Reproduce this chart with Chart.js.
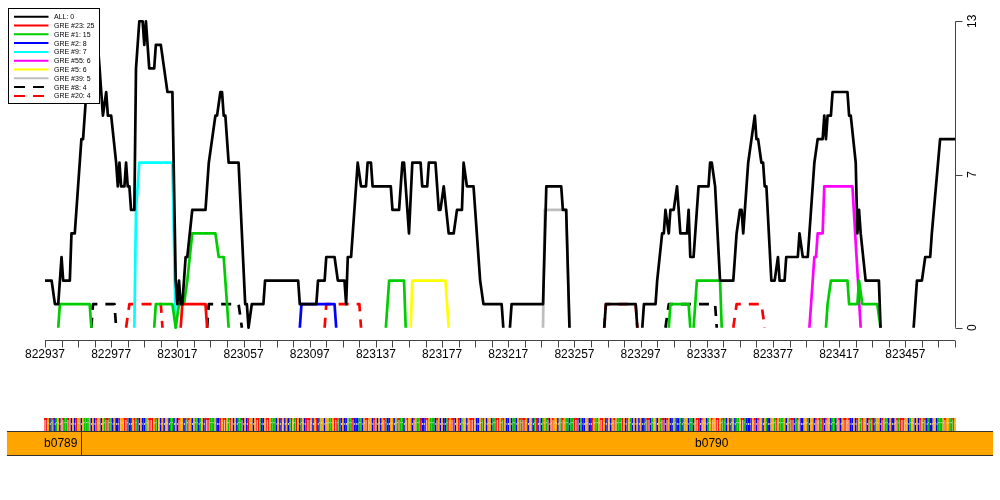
<!DOCTYPE html>
<html>
<head>
<meta charset="utf-8">
<script src="https://cdn.jsdelivr.net/npm/chart.js@4.4.1/dist/chart.umd.min.js"></script>
<style>
  html, body { margin: 0; padding: 0; background: #fff; }
  canvas { display: block; }
</style>
</head>
<body>
<canvas id="chart" width="1000" height="500"></canvas>
<script>
const seqStart = 822937;
const seqEnd = 823487;
const xTickStep = 10;
const xLabelStep = 40;
const yTicks = [0, 6.5, 13];
const yTickLabels = ['0', '7', '13'];

// [offset from seqStart, count]; null breaks the line
const allCounts = [
  [0,2],[4,2],[6,1],[8,1],[10,3],[11,2],[15,2],[16,4],[18,4],[21,7],[22,8],[23,8],[25,10],[26,10],[28,11],[31,12],[32,12],
  [34,10],[35,9],[37,10],[38,9],[40,9],[43,7],[44,6],[45,7],[46,6],[48,6],[49,7],[50,6],[51,6],[52,5],[54,5],[55,11],
  [57,13],[59,13],[60,12],[61,13],[63,11],[66,11],[67,12],[70,12],[72,11],[74,10],[77,10],[79,2],[80,1],[81,2],[82,1],
  [83,1],[85,3],[86,3],[89,5],[97,5],[99,7],[101,8],[103,9],[104,9],[106,10],[107,10],[108,9],[109,9],[111,7],[117,7],
  [121,1],[122,1],[123,0],[125,1],[132,1],[133,2],[153,2],[154,1],[164,1],[165,2],[169,2],[170,3],[175,3],[177,2],[181,2],
  [182,1],[183,3],[185,3],[189,7],[191,6],[194,6],[195,7],[197,7],[198,6],[209,6],[210,5],[214,5],[216,7],[217,7],[220,4],
  [222,7],[227,7],[228,6],[231,6],[232,7],[236,7],[238,5],[239,5],[241,6],[244,4],[247,4],[249,5],[252,5],[253,7],[255,6],
  [259,6],[263,2],[265,1],[276,1],[277,0], null,
  [281,0],[282,1],[301,1],[303,6],[312,6],[313,5],[315,5],[317,0], null,
  [338,0],[339,1],[357,1],[358,0], null,
  [361,0],[362,1],[369,1],[370,2],[373,4],[374,4],[375,5],[377,4],[378,5],[380,5],[382,6],[384,4],[388,4],[389,5],[390,3],
  [392,3],[395,6],[401,6],[402,7],[403,7],[405,6],[408,2],[416,2],[418,4],[420,5],[421,5],[422,4],[425,7],[427,8],[429,9],
  [430,8],[431,8],[433,7],[434,7],[435,6],[436,6],[439,2],[441,2],[443,3],[444,2],[447,2],[448,3],[455,3],[456,4],[458,3],
  [461,3],[465,7],[467,8],[470,8],[471,9],[472,8],[473,9],[475,9],[476,10],[485,10],[486,9],[487,9],[490,7],[491,4],[492,5],
  [493,4],[496,2],[504,2],[505,0], null,
  [525,0],[527,2],[530,2],[532,3],[535,3],[536,4],[541,8],[550,8]
];
const gre23 = [[82,0],[83,1],[97,1],[98,0]];
const gre1 = [
  [8,0],[9,1],[27,1],[28,0], null,
  [66,0],[67,1],[77,1],[79,0],[81,1],[84,1],[86,2],[89,4],[103,4],[105,3],[108,3],[111,0], null,
  [206,0],[208,2],[217,2],[218,0], null,
  [377,0],[378,1],[389,1],[390,0], null,
  [392,0],[394,2],[408,2],[409,0], null,
  [472,0],[473,1],[475,2],[485,2],[486,1],[491,1],[492,2],[494,1],[503,1],[505,0]
];
const gre2 = [[154,0],[155,1],[175,1],[176,0]];
const gre9 = [[54,0],[55,5],[57,7],[77,7],[79,0]];
const gre55 = [[462,0],[465,3],[466,3],[467,4],[470,4],[471,6],[488,6],[493,0]];
const gre5 = [[221,0],[222,2],[242,2],[244,0]];
const gre39 = [[301,0],[302,5],[315,5],[317,0]];
const gre8 = [[28,0],[29,1],[42,1],[43,0], null, [98,0],[99,1],[117,1],[119,0], null, [375,0],[377,1],[405,1],[406,0]];
const gre20 = [
  [49,0],[51,1],[70,1],[71,0], null,
  [169,0],[170,1],[190,1],[191,0], null,
  [338,0],[339,1],[357,1],[358,0], null,
  [416,0],[418,1],[433,1],[435,0]
];

const seriesLabels = ['ALL: 0', 'GRE #23: 25', 'GRE #1: 15', 'GRE #2: 8', 'GRE #9: 7', 'GRE #55: 6', 'GRE #5: 6', 'GRE #39: 5', 'GRE #8: 4', 'GRE #20: 4'];
const seriesData = [allCounts, gre23, gre1, gre2, gre9, gre55, gre5, gre39, gre8, gre20];
const seriesColors = ['#000000', '#FF0000', '#00CD00', '#0000FF', '#00FFFF', '#FF00FF', '#FFFF00', '#BEBEBE', '#000000', '#FF0000'];
const seriesDashed = [false, false, false, false, false, false, false, false, true, true];

const sequence =
  'TTGCATCAGCGTAATGCGCTGGCGAAAGCGCTGGCGATTAACGCCTGGTT' +
  'ACCGTATCGCCAGTTTGATGCGCGGCAACGCTGGCTATGCGAACAGCTTT' +
  'AAAGCCTGTTGATGCGCAATCGCTGGCGTTACCGTTGAAACGCTGCGCAT' +
  'GATGCAGCTTTGCGTCAGGCGGAAGTTATCGCCGAATCCCAACGTTGGCT' +
  'GCGCGTACCGGCGATAACGTGGCTGAATCCTTGAAACTGCGCCATGTTCG' +
  'TCAGGCGTTTGCCGATGCGGCAATTGATGCCGCAACGTATTGCGGCATCG' +
  'CAGATCGTGGCGATGAACAATTTCACCGGCCTGAAGTTGCTGCGTGAAAT' +
  'GCTGACGCGCGCCATTCAGGCGATTCTGCCGACCACAGGCAACGTTCTGG' +
  'CAGTGGTTGATACGCAGCAAGTTACCCTGTCTGGCGACCGGATGAAAGCG' +
  'ATTCATGCCGGACGGCTGTATCTGGCAACGTCGTTGTCCGCTGATGGCTA' +
  'TCAGGCTGAACGCCGTATTTGGCAGGCGCTGATCACCGGCAAAGTGGAAT' + 'G';
const baseColors = { A: '#00C000', C: '#0000FF', G: '#FFA500', T: '#FF0000' };

const geneNames = ['b0789', 'b0790'];
const geneStarts = [822914, 822959];
const geneEnds = [822959, 823510];
const geneLabelAt = [822946.5, 823340];

const FONT = '"Liberation Sans", Arial, Helvetica, sans-serif';

function toPoints(pairs) {
  const out = [];
  let lastX = seqStart;
  pairs.forEach(p => {
    if (p === null) {
      out.push({ x: lastX + 0.5, y: null });
    } else {
      lastX = seqStart + p[0];
      out.push({ x: lastX, y: p[1] });
    }
  });
  return out;
}

const datasets = seriesLabels.map((label, i) => ({
  label: label,
  data: toPoints(seriesData[i]),
  borderColor: seriesColors[i],
  borderWidth: 2.7,
  borderDash: seriesDashed[i] ? [10, 8] : [],
  borderCapStyle: 'butt',
  borderJoinStyle: 'round',
  pointRadius: 0,
  tension: 0,
  fill: false,
  spanGaps: false
}));

const rStyle = {
  id: 'rStyle',
  afterDraw(chart) {
    const ctx = chart.ctx;
    const xs = chart.scales.x;
    const ys = chart.scales.y;
    const area = chart.chartArea;
    ctx.save();

    // bottom axis
    const axY = Math.round(area.bottom) + 0.5;
    ctx.strokeStyle = '#444';
    ctx.lineWidth = 1;
    ctx.beginPath();
    ctx.moveTo(xs.getPixelForValue(seqStart), axY);
    ctx.lineTo(xs.getPixelForValue(seqEnd), axY);
    for (let v = seqStart; v <= seqEnd; v += xTickStep) {
      const px = Math.round(xs.getPixelForValue(v)) + 0.5;
      ctx.moveTo(px, axY);
      ctx.lineTo(px, axY + 7);
    }
    ctx.stroke();
    ctx.fillStyle = '#000';
    ctx.font = '12px ' + FONT;
    ctx.textAlign = 'center';
    ctx.textBaseline = 'middle';
    for (let v = seqStart; v <= seqEnd; v += xLabelStep) {
      ctx.fillText(String(v), xs.getPixelForValue(v), axY + 14);
    }

    // right axis
    const axX = Math.round(area.right) + 0.5;
    ctx.beginPath();
    ctx.moveTo(axX, ys.getPixelForValue(yTicks[0]));
    ctx.lineTo(axX, ys.getPixelForValue(yTicks[yTicks.length - 1]));
    yTicks.forEach(v => {
      const py = Math.round(ys.getPixelForValue(v)) + 0.5;
      ctx.moveTo(axX, py);
      ctx.lineTo(axX + 7, py);
    });
    ctx.stroke();
    yTicks.forEach((v, i) => {
      ctx.save();
      ctx.translate(axX + 17, ys.getPixelForValue(v));
      ctx.rotate(-Math.PI / 2);
      ctx.fillText(yTickLabels[i], 0, 0);
      ctx.restore();
    });

    // legend
    const lx = 8.5, ly = 8.5, lw = 91, lh = 95, rowH = 8.8;
    ctx.fillStyle = '#fff';
    ctx.fillRect(lx, ly, lw, lh);
    ctx.strokeStyle = '#000';
    ctx.lineWidth = 1;
    ctx.strokeRect(lx, ly, lw, lh);
    ctx.font = '7px ' + FONT;
    ctx.textAlign = 'left';
    chart.data.datasets.forEach((ds, i) => {
      const yy = 16.7 + i * rowH;
      ctx.beginPath();
      ctx.strokeStyle = ds.borderColor;
      ctx.lineWidth = 2;
      ctx.setLineDash(ds.borderDash.length ? [11, 8] : []);
      ctx.moveTo(14, yy);
      ctx.lineTo(48.5, yy);
      ctx.stroke();
      ctx.setLineDash([]);
      ctx.fillStyle = '#000';
      ctx.fillText(ds.label, 54, yy + 0.5);
    });

    // sequence track: one squeezed coloured glyph per base
    const cellW = xs.getPixelForValue(seqStart + 1) - xs.getPixelForValue(seqStart);
    const seqTop = 418, seqBottom = 431, seqMid = 424;
    const n = Math.min(sequence.length, seqEnd - seqStart + 1);
    for (let i = 0; i < n; i++) {
      const b = sequence[i];
      const cx = xs.getPixelForValue(seqStart + i);
      const x0 = cx - cellW / 2;
      ctx.fillStyle = baseColors[b];
      if (b === 'T') {
        ctx.fillRect(x0, seqTop, cellW, 2);
        ctx.fillRect(cx - cellW * 0.3, seqTop, cellW * 0.6, seqBottom - seqTop);
      } else {
        ctx.fillRect(x0, seqTop, cellW, seqBottom - seqTop);
        ctx.fillStyle = 'rgba(255,255,255,0.85)';
        if (b === 'A') ctx.fillRect(cx - cellW * 0.2, seqMid - 2, cellW * 0.4, 1.2);
        else if (b === 'C') ctx.fillRect(cx - cellW * 0.1, seqMid - 1, cellW * 0.6, 2);
        else ctx.fillRect(cx - cellW * 0.1, seqMid - 1.5, cellW * 0.5, 1);
      }
    }

    // gene bar
    const gTop = 431, gBottom = 455;
    const gx0 = xs.getPixelForValue(geneStarts[0]);
    const gx1 = xs.getPixelForValue(geneEnds[geneEnds.length - 1]);
    ctx.fillStyle = '#FFA500';
    ctx.fillRect(gx0, gTop, gx1 - gx0, gBottom - gTop);
    ctx.strokeStyle = '#333';
    ctx.lineWidth = 1;
    ctx.beginPath();
    ctx.moveTo(gx0, gTop + 0.5);
    ctx.lineTo(gx1, gTop + 0.5);
    ctx.moveTo(gx0, gBottom + 0.5);
    ctx.lineTo(gx1, gBottom + 0.5);
    for (let i = 1; i < geneStarts.length; i++) {
      const dx = Math.round(xs.getPixelForValue(geneStarts[i])) + 0.5;
      ctx.moveTo(dx, gTop);
      ctx.lineTo(dx, gBottom);
    }
    ctx.stroke();
    ctx.fillStyle = '#000';
    ctx.font = '12px ' + FONT;
    ctx.textAlign = 'center';
    ctx.textBaseline = 'middle';
    geneNames.forEach((g, i) => {
      ctx.fillText(g, xs.getPixelForValue(geneLabelAt[i]), (gTop + gBottom) / 2 + 0.5);
    });

    ctx.restore();
  }
};

new Chart(document.getElementById('chart').getContext('2d'), {
  type: 'line',
  data: { datasets: datasets },
  options: {
    responsive: false,
    animation: false,
    layout: { padding: { left: 45, right: 45, top: 9, bottom: 160 } },
    plugins: { legend: { display: false }, tooltip: { enabled: false } },
    scales: {
      x: { type: 'linear', min: seqStart, max: seqEnd, display: false },
      y: { type: 'linear', min: -0.52, max: 13.52, display: false }
    }
  },
  plugins: [rStyle]
});
</script>
</body>
</html>
